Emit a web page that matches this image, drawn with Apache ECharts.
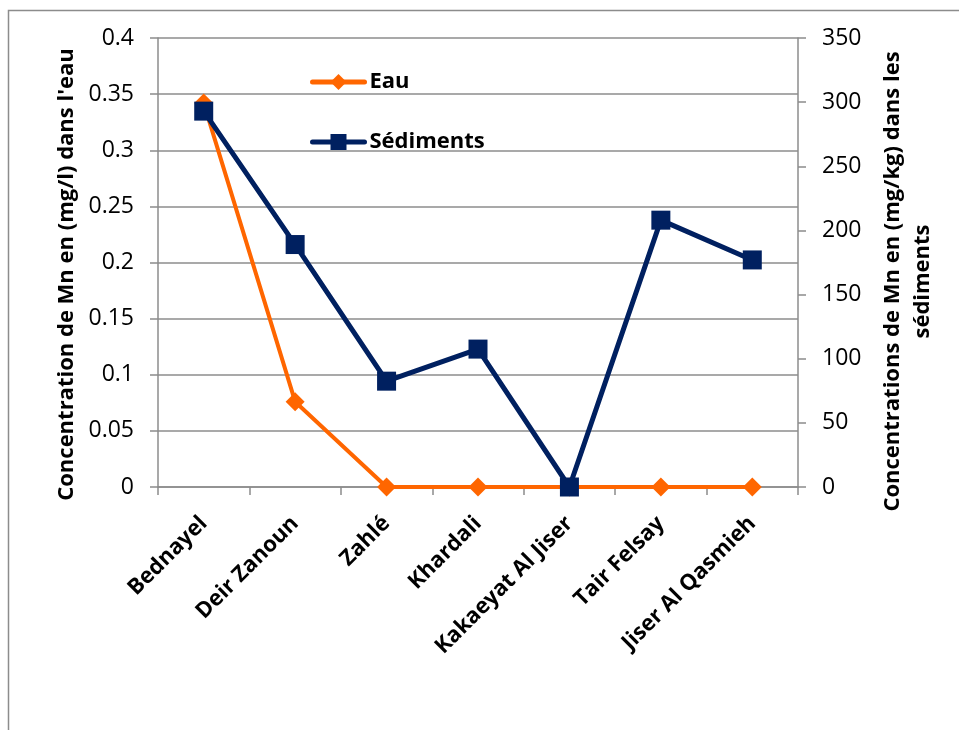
<!DOCTYPE html>
<html>
<head>
<meta charset="utf-8">
<script src="https://cdn.jsdelivr.net/npm/echarts@6/dist/echarts.min.js"></script>
<style>
  html, body { margin: 0; padding: 0; background: #fff; }
  #chart { width: 959px; height: 730px; }
</style>
</head>
<body>
<div id="chart"></div>
<script>
// Sampling sites along the river
const sites = ['Bednayel', 'Deir Zanoun', 'Zahlé', 'Khardali', 'Kakaeyat Al Jiser', 'Tair Felsay', 'Jiser Al Qasmieh'];
// Mn in water (mg/l)
const eau = [0.342, 0.076, 0, 0, 0, 0, 0];
// Mn in sediments (mg/kg)
const sediments = [293, 189, 82.5, 107.5, 0, 208, 177];

const FONT = '"Open Sans", Lato, sans-serif';
const GRAY = '#8c8c8c';
const ORANGE = '#ff6600';
const NAVY = '#002060';

const chart = echarts.init(document.getElementById('chart'), null, { renderer: 'canvas' });

const valueAxisBase = {
  type: 'value',
  min: 0,
  nameLocation: 'middle',
  nameRotate: 90,
  axisLine: { show: true, lineStyle: { color: GRAY, width: 1.5 } },
  axisTick: { show: true, length: 8, lineStyle: { color: GRAY, width: 1.5 } },
  axisLabel: { fontFamily: FONT, fontSize: 23, color: '#000', margin: 24 }
};

chart.setOption({
  animation: false,
  backgroundColor: '#fff',
  graphic: [{
    type: 'rect',
    shape: { x: 8.5, y: 10.5, width: 1000, height: 1000 },
    style: { fill: 'none', stroke: GRAY, lineWidth: 1.5 },
    silent: true
  }],
  grid: { left: 158, right: 161, top: 38, bottom: 243, containLabel: false },
  legend: {
    orient: 'vertical',
    left: 305,
    top: 66,
    itemWidth: 52,
    itemHeight: 20,
    itemGap: 38,
    textStyle: {
      fontFamily: FONT, fontSize: 22, fontWeight: 'bold', color: '#000',
      lineHeight: 20
    },
    data: [
      { name: 'Eau', lineStyle: { width: 5, cap: 'round' } },
      { name: 'Sédiments', lineStyle: { width: 5, cap: 'round' } }
    ]
  },
  xAxis: {
    type: 'category',
    data: sites,
    boundaryGap: true,
    axisLine: { show: true, lineStyle: { color: GRAY, width: 1.5 } },
    axisTick: { show: true, length: 8, alignWithLabel: false, lineStyle: { color: GRAY, width: 1.5 } },
    axisLabel: {
      interval: 0,
      rotate: 45,
      margin: 33,
      fontFamily: FONT,
      fontSize: 22,
      fontWeight: 'bold',
      color: '#000'
    }
  },
  yAxis: [
    Object.assign({}, valueAxisBase, {
      position: 'left',
      max: 0.4,
      interval: 0.05,
      name: "Concentration de Mn en (mg/l) dans l'eau",
      nameGap: 73,
      nameTextStyle: {
        fontFamily: FONT, fontSize: 22, fontWeight: 'bold', color: '#000',
        padding: [0, 24, 0, 0]
      },
      splitLine: { show: true, lineStyle: { color: GRAY, width: 1.5 } }
    }),
    Object.assign({}, valueAxisBase, {
      position: 'right',
      max: 350,
      interval: 50,
      name: 'Concentrations de Mn en (mg/kg) dans les\nsédiments',
      nameGap: 80,
      nameTextStyle: {
        fontFamily: FONT, fontSize: 22, fontWeight: 'bold', color: '#000',
        lineHeight: 30, padding: [0, 38, 0, 0]
      },
      splitLine: { show: false }
    })
  ],
  series: [
    {
      name: 'Eau',
      type: 'line',
      yAxisIndex: 0,
      data: eau,
      symbol: 'diamond',
      symbolSize: 19,
      lineStyle: { color: ORANGE, width: 4 },
      itemStyle: { color: ORANGE },
      z: 2
    },
    {
      name: 'Sédiments',
      type: 'line',
      yAxisIndex: 1,
      data: sediments,
      symbol: 'rect',
      symbolSize: 19,
      lineStyle: { color: NAVY, width: 5 },
      itemStyle: { color: NAVY },
      z: 3
    }
  ]
});
</script>
</body>
</html>
